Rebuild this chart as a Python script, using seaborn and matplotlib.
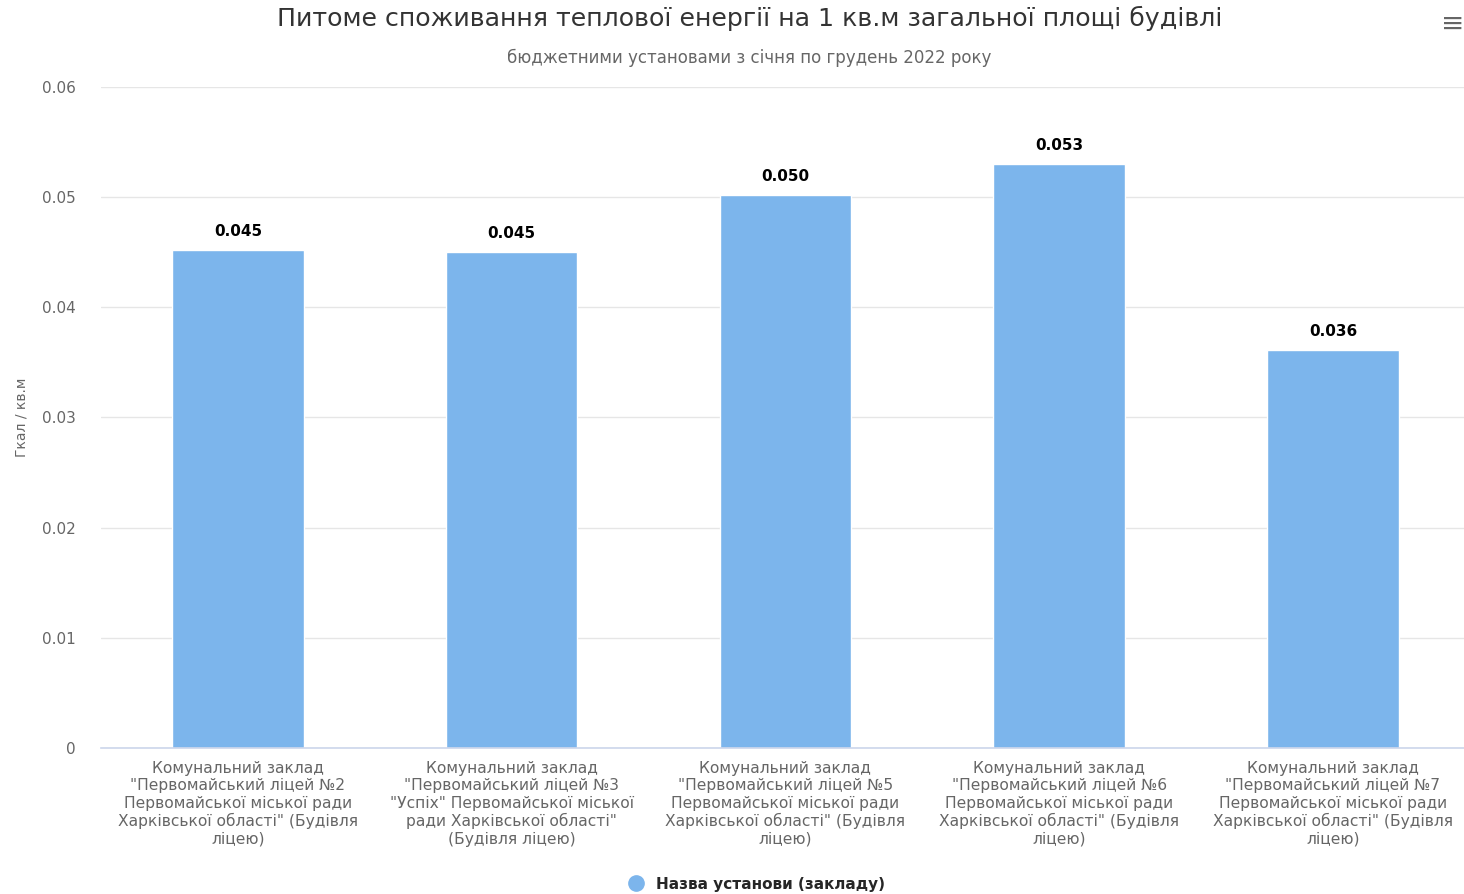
import matplotlib
matplotlib.use('Agg')
import matplotlib.pyplot as plt
from matplotlib.lines import Line2D
import seaborn as sns
import pandas as pd

categories = [
    'Комунальний заклад\n"Первомайський ліцей №2\nПервомайської міської ради\nХарківської області" (Будівля\nліцею)',
    'Комунальний заклад\n"Первомайський ліцей №3\n"Успіх" Первомайської міської\nради Харківської області"\n(Будівля ліцею)',
    'Комунальний заклад\n"Первомайський ліцей №5\nПервомайської міської ради\nХарківської області" (Будівля\nліцею)',
    'Комунальний заклад\n"Первомайський ліцей №6\nПервомайської міської ради\nХарківської області" (Будівля\nліцею)',
    'Комунальний заклад\n"Первомайський ліцей №7\nПервомайської міської ради\nХарківської області" (Будівля\nліцею)',
]
values = [0.0452, 0.0450, 0.0502, 0.0530, 0.0361]
value_labels = ['0.045', '0.045', '0.050', '0.053', '0.036']
series_name = 'Назва установи (закладу)'
title = 'Питоме споживання теплової енергії на 1 кв.м загальної площі будівлі'
subtitle = 'бюджетними установами з січня по грудень 2022 року'
y_label = 'Гкал / кв.м'
y_ticks = [0, 0.01, 0.02, 0.03, 0.04, 0.05, 0.06]

sns.set_style('white')
plt.rcParams['font.family'] = ['DejaVu Sans']

df = pd.DataFrame({'cat': categories, 'val': values})

fig = plt.figure(figsize=(14.64, 8.94), dpi=100)
ax = fig.add_axes([0.069, 0.163, 0.935, 0.74])

sns.barplot(data=df, x='cat', y='val', color='#7cb5ec', width=0.48,
            saturation=1, ax=ax)

ax.set_xlim(-0.5, 4.5)
ax.set_ylim(0, 0.06)
ax.set_yticks(y_ticks)
ax.set_yticklabels(['0', '0.01', '0.02', '0.03', '0.04', '0.05', '0.06'],
                   color='#666666', fontsize=11)
ax.yaxis.grid(True, color='#e6e6e6', linewidth=1)
ax.set_axisbelow(True)
for s in ['top', 'right', 'left']:
    ax.spines[s].set_visible(False)
ax.spines['bottom'].set_color('#ccd6eb')
ax.spines['bottom'].set_linewidth(1.2)
ax.tick_params(axis='y', length=0, pad=18)

ax.set_xticks(range(len(categories)))
ax.set_xticklabels(categories, color='#666666', fontsize=11.2, linespacing=1.2)
ax.tick_params(axis='x', which='major', length=0, pad=9)
ax.set_xticks([i - 0.5 for i in range(len(categories) + 1)], minor=True)
ax.tick_params(axis='x', which='minor', length=10, color='#ccd6eb', width=1.2)

ax.set_xlabel('')
ax.set_ylabel(y_label, color='#666666', fontsize=10, labelpad=10)

for p, lab in zip(ax.patches, value_labels):
    ax.annotate(lab, (p.get_x() + p.get_width() / 2, p.get_height()),
                xytext=(0, 8), textcoords='offset points', ha='center',
                va='bottom', fontsize=11, fontweight='bold', color='black')

fig.text(0.512, 0.979, title, ha='center', va='center', fontsize=18.2, color='#333333')
fig.text(0.512, 0.935, subtitle, ha='center', va='center', fontsize=12, color='#666666')
fig.text(0.992, 0.973, '≡', ha='center', va='center', fontsize=20, color='#666666')

handle = Line2D([0], [0], marker='o', linestyle='', markersize=11,
                markerfacecolor='#7cb5ec', markeredgecolor='#7cb5ec')
fig.legend([handle], [series_name], loc='center', bbox_to_anchor=(0.514, 0.011),
           frameon=False, handletextpad=0.3,
           prop={'weight': 'bold', 'size': 11})

fig.savefig('out.png', dpi=100)
